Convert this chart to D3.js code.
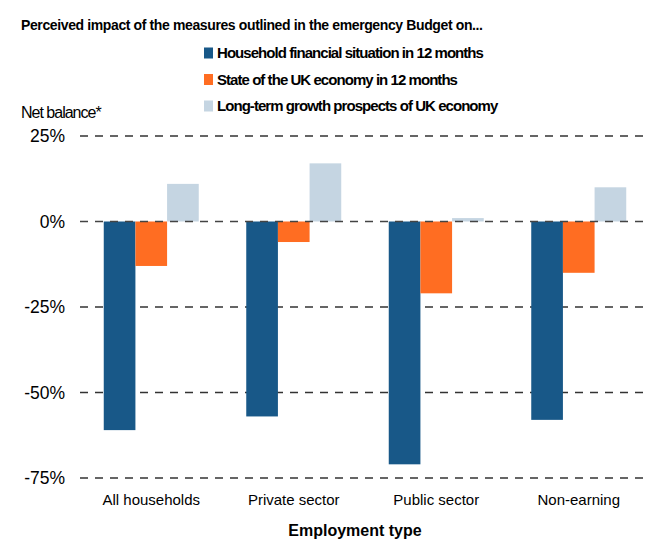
<!DOCTYPE html>
<html>
<head>
<meta charset="utf-8">
<script src="https://cdn.jsdelivr.net/npm/d3@7"></script>
<style>
  body { margin: 0; background: #fff; }
  text { font-family: "Liberation Sans", Arial, sans-serif; fill: #000; }
</style>
</head>
<body>
<div id="chart"></div>
<script>
// data
const categories = ['All households', 'Private sector', 'Public sector', 'Non-earning'];
const seriesNames = [
  'Household financial situation in 12 months',
  'State of the UK economy in 12 months',
  'Long-term growth prospects of UK economy'
];
const household = [-61, -57, -71, -58];
const economy = [-13, -6, -21, -15];
const longTerm = [11, 17, 1, 10];
const yTicks = [25, 0, -25, -50, -75];

const colors = ['#185888', '#ff6d22', '#c5d5e2'];
const series = [household, economy, longTerm];

const width = 659, height = 540;
const plot = { left: 80, right: 650, top: 136, bottom: 478 };

const svg = d3.select('#chart').append('svg')
  .attr('width', width)
  .attr('height', height);

const x = d3.scaleBand()
  .domain(categories)
  .range([plot.left, plot.right])
  .paddingInner(1 / 3)
  .paddingOuter(1 / 6);

const xs = d3.scaleBand()
  .domain(d3.range(series.length))
  .range([0, x.bandwidth()]);

const y = d3.scaleLinear()
  .domain([-75, 25])
  .range([plot.bottom, plot.top]);

// title
svg.append('text')
  .attr('x', 21).attr('y', 29.5)
  .attr('font-size', 14).attr('font-weight', 'bold')
  .attr('letter-spacing', -0.38)
  .text('Perceived impact of the measures outlined in the emergency Budget on...');

// legend
const legend = svg.append('g').attr('class', 'legend');
const lg = legend.selectAll('g')
  .data(seriesNames)
  .enter().append('g')
    .attr('transform', (d, i) => `translate(204,${53 + i * 26.5})`);
lg.append('rect')
  .attr('x', 0).attr('y', -5.5)
  .attr('width', 9).attr('height', 11)
  .attr('fill', (d, i) => colors[i]);
lg.append('text')
  .attr('x', 13).attr('y', 5)
  .attr('font-size', 15).attr('font-weight', 'bold')
  .attr('letter-spacing', -0.95)
  .text(d => d);

svg.append('text')
  .attr('x', 21).attr('y', 117.5)
  .attr('font-size', 16)
  .attr('letter-spacing', -1)
  .text('Net balance*');

// grid
const grid = svg.append('g').attr('class', 'grid');
grid.selectAll('line')
  .data(yTicks.filter(d => d !== 0))
  .enter().append('line')
    .attr('x1', plot.left).attr('x2', plot.right)
    .attr('y1', d => y(d)).attr('y2', d => y(d))
    .attr('stroke', '#333')
    .attr('stroke-width', 1.3)
    .attr('stroke-dasharray', '8,7');

// y labels
svg.append('g').selectAll('text')
  .data(yTicks)
  .enter().append('text')
    .attr('x', 65).attr('y', d => y(d))
    .attr('dy', '0.36em')
    .attr('text-anchor', 'end')
    .attr('font-size', 17.5)
    .text(d => d + '%');

// bars
const groups = svg.append('g').selectAll('g')
  .data(series)
  .enter().append('g')
    .attr('fill', (d, i) => colors[i]);

groups.selectAll('rect')
  .data((vals, si) => vals.map((v, ci) => ({ v, ci, si })))
  .enter().append('rect')
    .attr('x', d => x(categories[d.ci]) + xs(d.si))
    .attr('y', d => y(Math.max(0, d.v)))
    .attr('width', xs.bandwidth())
    .attr('height', d => Math.abs(y(d.v) - y(0)));

// zero line on top
svg.append('line')
  .attr('x1', plot.left).attr('x2', plot.right)
  .attr('y1', y(0)).attr('y2', y(0))
  .attr('stroke', '#444')
  .attr('stroke-width', 1.3)
  .attr('stroke-dasharray', '8,7');

// category labels
svg.append('g').selectAll('text')
  .data(categories)
  .enter().append('text')
    .attr('x', d => x(d) + x.bandwidth() / 2)
    .attr('y', 505)
    .attr('text-anchor', 'middle')
    .attr('font-size', 15)
    .text(d => d);

svg.append('text')
  .attr('x', 355).attr('y', 536)
  .attr('text-anchor', 'middle')
  .attr('font-size', 16).attr('font-weight', 'bold')
  .text('Employment type');
</script>
</body>
</html>
